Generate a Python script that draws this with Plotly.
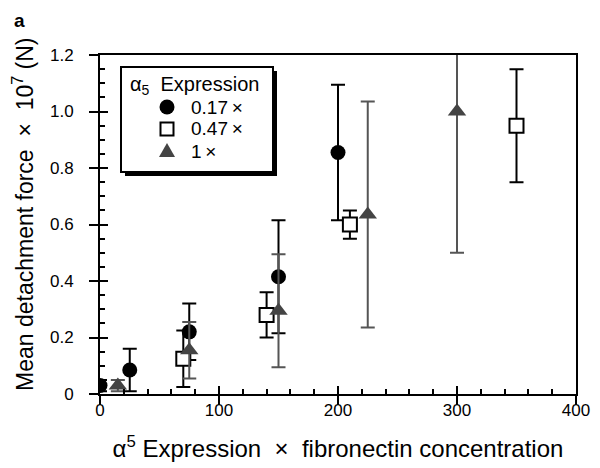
import plotly.graph_objects as go

FONT = "Liberation Sans, Arial, sans-serif"

# 0.17x alpha5 expression
circ_x = [0, 25, 75, 150, 200]
circ_y = [0.03, 0.085, 0.22, 0.415, 0.855]
circ_err = [0.02, 0.075, 0.10, 0.20, 0.24]

# 0.47x
sq_x = [70, 140, 210, 350]
sq_y = [0.125, 0.28, 0.60, 0.95]
sq_err = [0.10, 0.08, 0.05, 0.20]

# 1x
tri_x = [15, 75, 150, 225, 300]
tri_y = [0.03, 0.155, 0.295, 0.635, 1.0]
tri_err = [0.02, 0.10, 0.20, 0.40, 0.50]

x_ticks = [0, 100, 200, 300, 400]
y_ticks = [0, 0.2, 0.4, 0.6, 0.8, 1.0, 1.2]
y_ticktext = ["0", "0.2", "0.4", "0.6", "0.8", "1.0", "1.2"]
legend_labels = ["0.17\u2009×", "0.47\u2009×", "1\u2009×"]

TRI_GREY = "#444444"

fig = go.Figure()

fig.add_trace(go.Scatter(
    x=circ_x, y=circ_y, mode="markers", name=legend_labels[0],
    marker=dict(symbol="circle", size=15, color="black"),
    error_y=dict(type="data", array=circ_err, color="black", thickness=2, width=7),
))
fig.add_trace(go.Scatter(
    x=sq_x, y=sq_y, mode="markers", name=legend_labels[1],
    marker=dict(symbol="square", size=14, color="white",
                line=dict(color="black", width=2)),
    error_y=dict(type="data", array=sq_err, color="black", thickness=2, width=7),
))
fig.add_trace(go.Scatter(
    x=tri_x, y=tri_y, mode="markers", name=legend_labels[2],
    marker=dict(symbol="triangle-up", size=16, color=TRI_GREY),
    error_y=dict(type="data", array=tri_err, color="#555555", thickness=2, width=7),
))

# empty trace on overlay axes so the outer half of the major ticks shows
fig.add_trace(go.Scatter(x=[None], y=[None], xaxis="x2", yaxis="y2",
                         showlegend=False, hoverinfo="skip"))

axis_common = dict(showline=True, linecolor="black", linewidth=2,
                   showgrid=False, zeroline=False, ticks="inside",
                   tickcolor="black", tickwidth=2, ticklen=8, automargin=False)

# the page body adds an 8px offset, so the figure is 8px smaller than the window
fig.update_layout(
    width=592, height=460,
    margin=dict(l=92, r=24, t=47, b=74),
    paper_bgcolor="white", plot_bgcolor="white",
    font=dict(family=FONT, size=17, color="black"),
    showlegend=False,
    xaxis=dict(range=[0, 400], tickvals=x_ticks, mirror=True,
               minor=dict(dtick=20, ticks="inside", ticklen=5, tickwidth=1.5,
                          tickcolor="black"),
               title=dict(text="α<sup>5</sup> Expression \u00a0×\u00a0 fibronectin concentration",
                          font=dict(size=24), standoff=21),
               ticklabelstandoff=0, tickfont=dict(size=17), **axis_common),
    yaxis=dict(range=[0, 1.2], tickvals=y_ticks, ticktext=y_ticktext, mirror=True,
               minor=dict(dtick=0.05, ticks="inside", ticklen=5, tickwidth=1.5,
                          tickcolor="black"),
               ticklabelstandoff=21, tickfont=dict(size=17), **axis_common),
    xaxis2=dict(overlaying="x", range=[0, 400], tickvals=x_ticks, showticklabels=False,
                ticks="outside", ticklen=10, tickwidth=2, tickcolor="black",
                showgrid=False, zeroline=False, showline=False, anchor="y",
                automargin=False),
    yaxis2=dict(overlaying="y", range=[0, 1.2], tickvals=y_ticks, showticklabels=False,
                ticks="outside", ticklen=10, tickwidth=2, tickcolor="black",
                showgrid=False, zeroline=False, showline=False, anchor="x",
                automargin=False),
)

# window pixel geometry converted to paper coords
PW, PH = 476, 339
def px(xw):
    return (xw - 100) / PW
def py(yw):
    return (394 - yw) / PH

# y axis title (placed by hand, it sits a little above the plot's centre)
fig.add_annotation(text="Mean detachment force \u00a0×\u00a0 10<sup>7</sup> (N)",
                   xref="paper", yref="paper", x=px(23), y=py(214),
                   xanchor="center", yanchor="middle", textangle=-90,
                   showarrow=False, font=dict(size=23))

# legend drawn by hand
fig.add_shape(type="rect", xref="paper", yref="paper",
              x0=px(125), x1=px(277), y0=py(176), y1=py(71),
              fillcolor="black", line=dict(width=0), layer="above")
fig.add_shape(type="rect", xref="paper", yref="paper",
              x0=px(121), x1=px(273), y0=py(172), y1=py(67),
              fillcolor="white", line=dict(color="black", width=2), layer="above")

fig.add_annotation(text="α<sub>5</sub>\u00a0 Expression", xref="paper", yref="paper",
                   x=px(128), y=py(85), xanchor="left", yanchor="middle",
                   showarrow=False, font=dict(size=20))

key_x, key_rows = 167, [107, 129, 151]
fig.add_shape(type="circle", xref="paper", yref="paper",
              x0=px(key_x - 7.5), x1=px(key_x + 7.5),
              y0=py(key_rows[0] + 7.5), y1=py(key_rows[0] - 7.5),
              fillcolor="black", line=dict(width=0), layer="above")
fig.add_shape(type="rect", xref="paper", yref="paper",
              x0=px(key_x - 6.5), x1=px(key_x + 6.5),
              y0=py(key_rows[1] + 6.5), y1=py(key_rows[1] - 6.5),
              fillcolor="white", line=dict(color="black", width=2), layer="above")
fig.add_shape(type="path", xref="paper", yref="paper",
              path=(f"M {px(key_x - 8)} {py(key_rows[2] + 6)} "
                    f"L {px(key_x + 8)} {py(key_rows[2] + 6)} "
                    f"L {px(key_x)} {py(key_rows[2] - 8)} Z"),
              fillcolor=TRI_GREY, line=dict(width=0), layer="above")

for label, row in zip(legend_labels, key_rows):
    fig.add_annotation(text=label, xref="paper", yref="paper",
                       x=px(189), y=py(row), xanchor="left", yanchor="middle",
                       showarrow=False, font=dict(size=19))

fig.add_annotation(text="<b>a</b>", xref="paper", yref="paper", x=px(12), y=py(21),
                   xanchor="left", yanchor="middle", showarrow=False,
                   font=dict(size=19, family=FONT))

fig.write_html("out.html")
